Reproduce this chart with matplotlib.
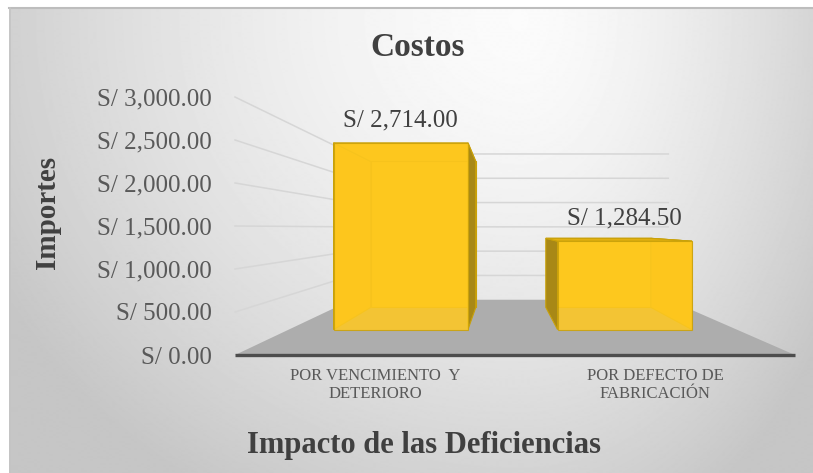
import matplotlib.pyplot as plt
import numpy as np
from matplotlib.patches import Polygon
from matplotlib.lines import Line2D
from matplotlib.ticker import FuncFormatter

# datos
categorias = ['POR VENCIMIENTO  Y\nDETERIORO', 'POR DEFECTO DE\nFABRICACIÓN']
importes = [2714.00, 1284.50]
ticks_y = [0, 500, 1000, 1500, 2000, 2500, 3000]

W, H = 813, 473
FUENTE = 'Liberation Serif'
plt.rcParams['font.family'] = FUENTE

# parametros de la perspectiva (unidades de datos del eje)
VP_X = 0.96          # punto de fuga horizontal
VP_V = 1477          # altura del ojo
S_FONDO = 0.565      # escala de la pared del fondo
S_FRENTE_BARRA = 0.80
S_FONDO_BARRA = 0.625
MEDIO_ANCHO = 0.30


def proy(x, v, s):
    return (VP_X + (x - VP_X) * s, VP_V + (v - VP_V) * s)


def cara(ax, pts, color, z, alpha=1.0, borde='#C9A10A'):
    ax.add_patch(Polygon(pts, closed=True, facecolor=color, edgecolor=borde,
                         linewidth=0.8, alpha=alpha, zorder=z, clip_on=False))


fig = plt.figure(figsize=(W / 100, H / 100), dpi=100)
fig.patch.set_facecolor('white')

# fondo con degradado radial
bg = fig.add_axes([9 / W, 0, 1 - 9 / W, 1 - 8 / H])
yy, xx = np.mgrid[8:H, 9:W].astype(float)
dx = np.where(xx < 520, (xx - 520) / 520, (xx - 520) / 320)
dy = (yy - 20) / 480
d = np.minimum(np.sqrt(dx ** 2 + dy ** 2), 1.15)
grad = 0.985 - 0.17 * d ** 1.5
bg.imshow(grad, cmap='gray', vmin=0, vmax=1, aspect='auto', interpolation='bilinear')
bg.axis('off')
fig.add_artist(Line2D([9 / W, 1], [1 - 8.5 / H, 1 - 8.5 / H], color='#BDBDBD', lw=1.5))
fig.add_artist(Line2D([9.5 / W, 9.5 / W], [0, 1 - 8 / H], color='#C4C4C4', lw=1.2))

ax = fig.add_axes([235 / W, 1 - 355 / H, (795 - 235) / W, (355 - 97) / H])
ax.set_facecolor('none')
ax.set_xlim(0, 2)
ax.set_ylim(0, 3000)
for sp in ax.spines.values():
    sp.set_visible(False)

# piso
piso = [proy(0, 0, 1), proy(2, 0, 1), proy(2, 0, S_FONDO), proy(0, 0, S_FONDO)]
ax.add_patch(Polygon(piso, closed=True, facecolor='#ADADAD', edgecolor='none', zorder=1, clip_on=False))
ax.plot([0, 2], [0, 0], color='#4D4D4D', lw=2.4, zorder=2, clip_on=False, solid_capstyle='butt')

# lineas de division (pared izquierda y fondo)
for v in ticks_y[1:]:
    p0, p1, p2 = proy(0, v, 1), proy(0, v, S_FONDO), proy(2, v, S_FONDO)
    ax.plot([p0[0], p1[0], p2[0]], [p0[1], p1[1], p2[1]], color='#D6D6D6', lw=1.1, zorder=1, clip_on=False)

# barras 3d
for i, v in enumerate(importes):
    c = i + 0.5
    x0, x1 = c - MEDIO_ANCHO, c + MEDIO_ANCHO
    sf, sb = S_FRENTE_BARRA, S_FONDO_BARRA
    # cara trasera y laterales interiores
    cara(ax, [proy(x0, 0, sb), proy(x1, 0, sb), proy(x1, v, sb), proy(x0, v, sb)], '#F7C418', 3)
    visible_x = x1 if c < VP_X else x0
    oculto_x = x0 if c < VP_X else x1
    cara(ax, [proy(oculto_x, 0, sf), proy(oculto_x, 0, sb), proy(oculto_x, v, sb), proy(oculto_x, v, sf)], '#F2BA10', 3)
    cara(ax, [proy(x0, v, sf), proy(x1, v, sf), proy(x1, v, sb), proy(x0, v, sb)], '#F4C015', 3)
    # lateral visible
    cara(ax, [proy(visible_x, 0, sf), proy(visible_x, 0, sb), proy(visible_x, v, sb), proy(visible_x, v, sf)], '#A88816', 4)
    if v < VP_V:
        cara(ax, [proy(x0, v, sf), proy(x1, v, sf), proy(x1, v, sb), proy(x0, v, sb)], '#E2B010', 4)
    # cara frontal semitransparente
    cara(ax, [proy(x0, 0, sf), proy(x1, 0, sf), proy(x1, v, sf), proy(x0, v, sf)], '#FFC920', 5, alpha=0.86)
    tx, ty = proy(c, v, sf)
    ax.annotate(f'S/ {v:,.2f}', (tx, ty), xytext=(0, 16.5), textcoords='offset points',
                ha='center', va='center', fontsize=18, color='#404040', zorder=6)

ax.set_yticks(ticks_y)
ax.yaxis.set_major_formatter(FuncFormatter(lambda v, p: f'S/ {v:,.2f}'))
ax.set_xticks([0.5, 1.5])
ax.set_xticklabels(categorias, linespacing=1.2, fontfamily=FUENTE)
ax.tick_params(axis='y', length=0, pad=16.5, labelsize=18, labelcolor='#595959')
ax.tick_params(axis='x', length=0, pad=9, labelsize=12, labelcolor='#595959')

fig.text(418 / W, 1 - 47 / H, 'Costos', ha='center', va='center', fontsize=24,
         fontweight='bold', color='#404040')
fig.text(47 / W, 1 - 212 / H, 'Importes', ha='center', va='center', rotation=90, fontsize=21,
         fontweight='bold', color='#404040')
fig.text(424 / W, 1 - 445 / H, 'Impacto de las Deficiencias', ha='center', va='center', fontsize=22,
         fontweight='bold', color='#404040')

plt.savefig('out.png', dpi=100)
plt.close()
